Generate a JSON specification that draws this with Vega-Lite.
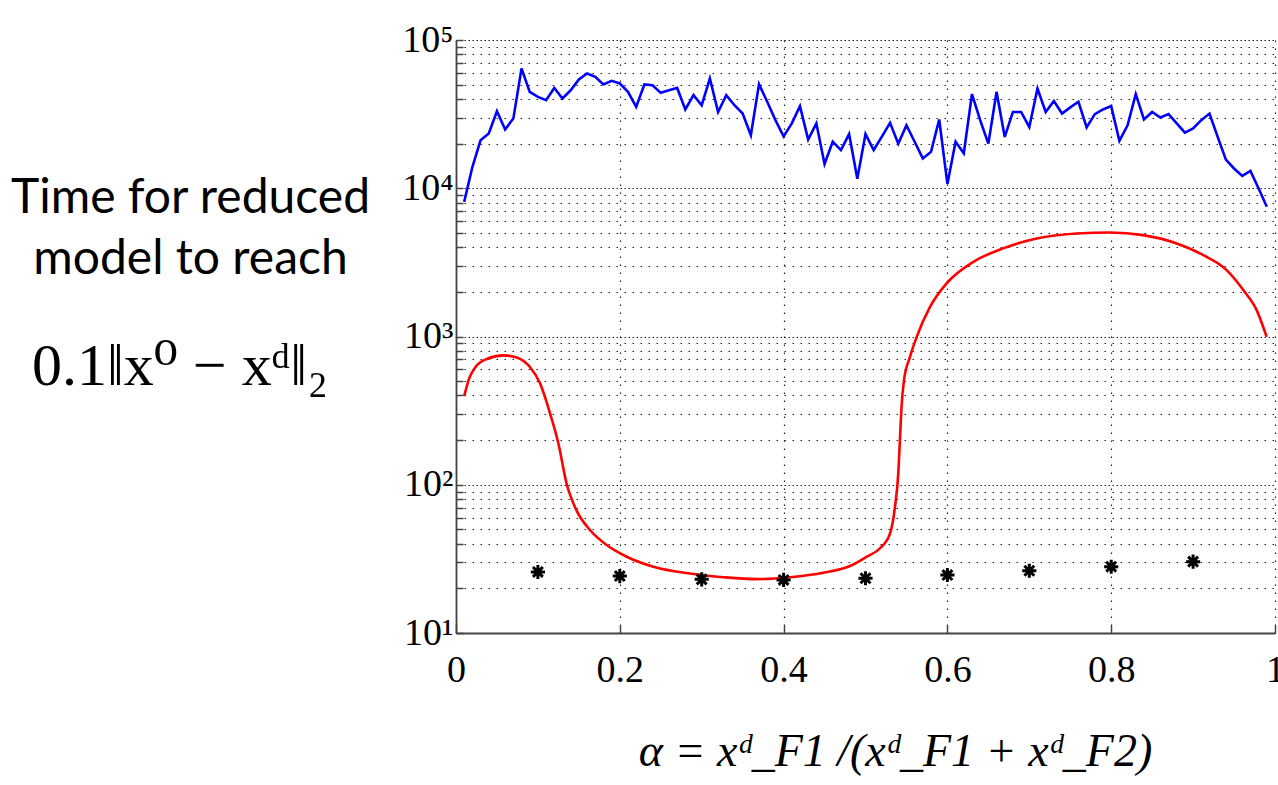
{
  "$schema": "https://vega.github.io/schema/vega-lite/v6.json",
  "width": 819,
  "height": 593,
  "autosize": {"type": "none"},
  "padding": {"left": 456, "top": 40, "right": 3, "bottom": 152},
  "background": "white",
  "title": {
    "text": "0.1‖x⁰ − xᵈ‖₂",
    "orient": "top",
    "anchor": "start",
    "frame": "group",
    "align": "center",
    "baseline": "alphabetic",
    "font": "Liberation Serif, DejaVu Serif, serif",
    "fontSize": 60,
    "fontWeight": "normal",
    "color": "black",
    "dx": -276,
    "dy": 424,
    "offset": 0
  },
  "datasets": {
    "simulated": [
      {"alpha": 0.01, "time": 8090}, {"alpha": 0.02, "time": 13900}, {"alpha": 0.03, "time": 21100},
      {"alpha": 0.04, "time": 23400}, {"alpha": 0.05, "time": 33100}, {"alpha": 0.06, "time": 24900},
      {"alpha": 0.07, "time": 29500}, {"alpha": 0.08, "time": 64300}, {"alpha": 0.09, "time": 44700},
      {"alpha": 0.10, "time": 41300}, {"alpha": 0.11, "time": 39300}, {"alpha": 0.12, "time": 47500},
      {"alpha": 0.13, "time": 40300}, {"alpha": 0.14, "time": 45800}, {"alpha": 0.15, "time": 54200},
      {"alpha": 0.16, "time": 59400}, {"alpha": 0.17, "time": 56400}, {"alpha": 0.18, "time": 50100},
      {"alpha": 0.19, "time": 53000}, {"alpha": 0.20, "time": 50900}, {"alpha": 0.21, "time": 44700},
      {"alpha": 0.22, "time": 35400}, {"alpha": 0.23, "time": 50100}, {"alpha": 0.24, "time": 49500},
      {"alpha": 0.25, "time": 44000}, {"alpha": 0.26, "time": 45800}, {"alpha": 0.27, "time": 47500},
      {"alpha": 0.28, "time": 34000}, {"alpha": 0.29, "time": 42500}, {"alpha": 0.30, "time": 36300},
      {"alpha": 0.31, "time": 55000}, {"alpha": 0.32, "time": 32700}, {"alpha": 0.33, "time": 42500},
      {"alpha": 0.34, "time": 36300}, {"alpha": 0.35, "time": 31900}, {"alpha": 0.36, "time": 22800},
      {"alpha": 0.37, "time": 50400}, {"alpha": 0.38, "time": 38300}, {"alpha": 0.39, "time": 28800},
      {"alpha": 0.40, "time": 22400}, {"alpha": 0.41, "time": 27400}, {"alpha": 0.42, "time": 35800},
      {"alpha": 0.43, "time": 21300}, {"alpha": 0.44, "time": 27400}, {"alpha": 0.45, "time": 14600},
      {"alpha": 0.46, "time": 20600}, {"alpha": 0.47, "time": 18100}, {"alpha": 0.48, "time": 23200},
      {"alpha": 0.49, "time": 11600}, {"alpha": 0.50, "time": 23200}, {"alpha": 0.51, "time": 18100},
      {"alpha": 0.52, "time": 22300}, {"alpha": 0.53, "time": 27600}, {"alpha": 0.54, "time": 20000},
      {"alpha": 0.55, "time": 26600}, {"alpha": 0.56, "time": 20600}, {"alpha": 0.57, "time": 15900},
      {"alpha": 0.58, "time": 17600}, {"alpha": 0.59, "time": 29100}, {"alpha": 0.60, "time": 10700},
      {"alpha": 0.61, "time": 20600}, {"alpha": 0.62, "time": 17200}, {"alpha": 0.63, "time": 43200},
      {"alpha": 0.64, "time": 28800}, {"alpha": 0.65, "time": 20000}, {"alpha": 0.66, "time": 44700},
      {"alpha": 0.67, "time": 22200}, {"alpha": 0.68, "time": 32700}, {"alpha": 0.69, "time": 32700},
      {"alpha": 0.70, "time": 25900}, {"alpha": 0.71, "time": 47100}, {"alpha": 0.72, "time": 32700},
      {"alpha": 0.73, "time": 38800}, {"alpha": 0.74, "time": 31900}, {"alpha": 0.75, "time": 35100},
      {"alpha": 0.76, "time": 38300}, {"alpha": 0.77, "time": 25700}, {"alpha": 0.78, "time": 31600},
      {"alpha": 0.79, "time": 34000}, {"alpha": 0.80, "time": 35800}, {"alpha": 0.81, "time": 20900},
      {"alpha": 0.82, "time": 26600}, {"alpha": 0.83, "time": 43200}, {"alpha": 0.84, "time": 29100},
      {"alpha": 0.85, "time": 32700}, {"alpha": 0.86, "time": 30000}, {"alpha": 0.87, "time": 31600},
      {"alpha": 0.88, "time": 27400}, {"alpha": 0.89, "time": 23700}, {"alpha": 0.90, "time": 25300},
      {"alpha": 0.91, "time": 28800}, {"alpha": 0.92, "time": 31900}, {"alpha": 0.93, "time": 22200},
      {"alpha": 0.94, "time": 15600}, {"alpha": 0.95, "time": 13600}, {"alpha": 0.96, "time": 12100},
      {"alpha": 0.97, "time": 13100}, {"alpha": 0.98, "time": 9970}, {"alpha": 0.99, "time": 7500}
    ],
    "bound": [
      {"alpha": 0.01, "time": 396}, {"alpha": 0.016, "time": 520}, {"alpha": 0.024, "time": 625},
      {"alpha": 0.0375, "time": 705},
      {"alpha": 0.058, "time": 746}, {"alpha": 0.074, "time": 723}, {"alpha": 0.09, "time": 625},
      {"alpha": 0.1026, "time": 483}, {"alpha": 0.1148, "time": 303}, {"alpha": 0.125, "time": 190},
      {"alpha": 0.135, "time": 102}, {"alpha": 0.147, "time": 67.4}, {"alpha": 0.1636, "time": 49.5},
      {"alpha": 0.184, "time": 39.2}, {"alpha": 0.2084, "time": 32.7}, {"alpha": 0.241, "time": 28.0},
      {"alpha": 0.29, "time": 25.0}, {"alpha": 0.3264, "time": 23.8}, {"alpha": 0.367, "time": 23.1},
      {"alpha": 0.408, "time": 23.8}, {"alpha": 0.4485, "time": 25.5}, {"alpha": 0.481, "time": 28.3},
      {"alpha": 0.5015, "time": 32.7}, {"alpha": 0.5177, "time": 37.3}, {"alpha": 0.53, "time": 47},
      {"alpha": 0.536, "time": 71}, {"alpha": 0.54, "time": 119}, {"alpha": 0.542, "time": 200},
      {"alpha": 0.544, "time": 336}, {"alpha": 0.547, "time": 508}, {"alpha": 0.5543, "time": 729},
      {"alpha": 0.5625, "time": 995}, {"alpha": 0.5788, "time": 1585}, {"alpha": 0.599, "time": 2280},
      {"alpha": 0.6317, "time": 3190}, {"alpha": 0.668, "time": 3930}, {"alpha": 0.709, "time": 4585},
      {"alpha": 0.758, "time": 4955}, {"alpha": 0.7985, "time": 5035}, {"alpha": 0.839, "time": 4830},
      {"alpha": 0.88, "time": 4245}, {"alpha": 0.9125, "time": 3540}, {"alpha": 0.941, "time": 2805},
      {"alpha": 0.9613, "time": 2056}, {"alpha": 0.9776, "time": 1507}, {"alpha": 0.9898, "time": 995}
    ],
    "samples": [
      {"alpha": 0.1, "time": 25.8}, {"alpha": 0.2, "time": 24.2}, {"alpha": 0.3, "time": 23.0},
      {"alpha": 0.4, "time": 22.8}, {"alpha": 0.5, "time": 23.4}, {"alpha": 0.6, "time": 24.6},
      {"alpha": 0.7, "time": 26.3}, {"alpha": 0.8, "time": 28.0}, {"alpha": 0.9, "time": 30.3}
    ]
  },
  "encoding": {
    "x": {
      "field": "alpha",
      "type": "quantitative",
      "scale": {"domain": [0, 1], "nice": false, "zero": false},
      "axis": {
        "values": [0, 0.2, 0.4, 0.6, 0.8, 1],
        "format": "~g",
        "labelFont": "Liberation Serif",
        "labelFontSize": 38,
        "labelColor": "black",
        "labelBaseline": "top",
        "labelPadding": 26,
        "labelFlush": false,
        "labelOverlap": false,
        "tickSize": -8,
        "tickColor": "#444444",
        "tickWidth": 1.5,
        "domainColor": "#444444",
        "domainWidth": 1.8,
        "grid": true,
        "gridColor": "#222222",
        "gridWidth": 1.2,
        "gridDash": [1.5, 6.5],
        "title": "α = xᵈ_F1 /(xᵈ_F1 + xᵈ_F2)",
        "titleFont": "Liberation Serif",
        "titleFontStyle": "italic",
        "titleFontWeight": "normal",
        "titleFontSize": 46,
        "titleColor": "black",
        "titleAlign": "center",
        "titleBaseline": "alphabetic",
        "titleX": 439,
        "titleY": 132
      }
    },
    "y": {
      "field": "time",
      "type": "quantitative",
      "scale": {"type": "log", "domain": [10, 100000], "nice": false},
      "axis": {
        "values": [10, 20, 30, 40, 50, 60, 70, 80, 90,
                   100, 200, 300, 400, 500, 600, 700, 800, 900,
                   1000, 2000, 3000, 4000, 5000, 6000, 7000, 8000, 9000,
                   10000, 20000, 30000, 40000, 50000, 60000, 70000, 80000, 90000, 100000],
        "labelExpr": "abs(log(datum.value)/LN10 - round(log(datum.value)/LN10)) < 0.001 ? '10' + ['⁰','¹','²','³','⁴','⁵'][round(log(datum.value)/LN10)] : ''",
        "labelFont": "Liberation Serif",
        "labelFontSize": 38,
        "labelColor": "black",
        "labelPadding": 10,
        "labelOverlap": false,
        "labelFlush": false,
        "labelBound": false,
        "tickSize": -7,
        "tickColor": "#444444",
        "tickWidth": 1.5,
        "domainColor": "#444444",
        "domainWidth": 1.8,
        "grid": true,
        "gridColor": "#222222",
        "gridWidth": 1.2,
        "gridDash": {
          "condition": {"test": "abs(log(datum.value)/LN10 - round(log(datum.value)/LN10)) < 0.001", "value": [1.5, 2.5]},
          "value": [1.5, 6.5]
        },
        "title": ["Time for reduced", "model to reach"],
        "titleFont": "Lato",
        "titleFontSize": 48,
        "titleFontWeight": "normal",
        "titleColor": "black",
        "titleAngle": 0,
        "titleAlign": "center",
        "titleBaseline": "alphabetic",
        "titleLineHeight": 61,
        "titleX": -266,
        "titleY": 172
      }
    }
  },
  "layer": [
    {
      "data": {"name": "simulated"},
      "mark": {"type": "line", "color": "#0000ff", "strokeWidth": 2.6, "clip": true}
    },
    {
      "data": {"name": "bound"},
      "mark": {"type": "line", "color": "#ff0000", "strokeWidth": 2.6, "interpolate": "monotone", "clip": true}
    },
    {
      "data": {"name": "samples"},
      "mark": {
        "type": "point",
        "shape": "M0,-1L0,1M-1,0L1,0M-0.7,-0.7L0.7,0.7M-0.7,0.7L0.7,-0.7",
        "size": 200,
        "filled": false,
        "stroke": "black",
        "strokeWidth": 3,
        "opacity": 1
      }
    }
  ],
  "config": {
    "view": {"stroke": null}
  }
}
